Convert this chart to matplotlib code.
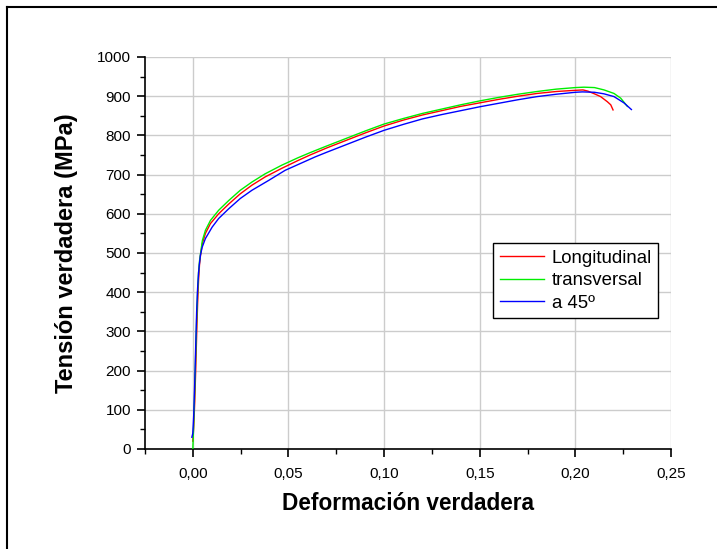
import matplotlib
matplotlib.use("Agg")
import matplotlib.pyplot as plt
from matplotlib.ticker import MultipleLocator, FuncFormatter
from matplotlib.lines import Line2D

plt.rcParams['font.family'] = ['Liberation Sans', 'DejaVu Sans']

# Longitudinal (red)
long_strain = [0.0, 0.0005, 0.001, 0.0015, 0.002, 0.0025, 0.003, 0.0035, 0.004, 0.005, 0.0066, 0.0092,
               0.0135, 0.0188, 0.0248, 0.0309, 0.0378, 0.0465, 0.055, 0.0613, 0.070, 0.080, 0.090,
               0.100, 0.110, 0.120, 0.130, 0.140, 0.150, 0.160, 0.170, 0.180, 0.190, 0.200, 0.204,
               0.2065, 0.2100, 0.2132, 0.2167, 0.2185, 0.2197]
long_stress = [20, 60, 120, 200, 290, 370, 430, 470, 493, 525, 550, 575,
               600, 625, 651, 673, 694, 716, 736, 750, 768, 787, 806,
               824, 839, 852, 863, 874, 883, 892, 900, 907, 912, 915, 916,
               913, 906, 899, 886, 878, 865]

# Transversal (green)
trans_strain = [0.0, 0.0005, 0.001, 0.0015, 0.002, 0.0025, 0.003, 0.0035, 0.004, 0.005, 0.0066, 0.0092,
                0.0135, 0.0188, 0.0248, 0.0309, 0.0378, 0.0465, 0.055, 0.0613, 0.070, 0.080, 0.090,
                0.100, 0.110, 0.120, 0.130, 0.140, 0.150, 0.160, 0.170, 0.180, 0.190, 0.200, 0.2045,
                0.2100, 0.2150, 0.2202, 0.2237, 0.2272]
trans_stress = [0, 70, 150, 240, 330, 400, 450, 480, 497, 532, 558, 583,
                609, 634, 660, 681, 702, 724, 743, 756, 773, 792, 811,
                829, 843, 856, 867, 878, 888, 897, 905, 912, 918, 922, 923,
                922, 916, 907, 895, 874]

# a 45º (blue)
d45_strain = [-0.0005, 0.0, 0.0005, 0.001, 0.0015, 0.002, 0.0025, 0.003, 0.0035, 0.004, 0.0049, 0.0066,
              0.0101, 0.0135, 0.0188, 0.0248, 0.0309, 0.0396, 0.0483, 0.0639, 0.070, 0.080, 0.090,
              0.100, 0.110, 0.120, 0.130, 0.140, 0.150, 0.160, 0.170, 0.180, 0.190, 0.200, 0.2037,
              0.2100, 0.2150, 0.2202, 0.2254, 0.2293]
d45_stress = [30, 40, 90, 170, 260, 350, 410, 450, 475, 495, 515, 537,
              566, 588, 613, 639, 660, 685, 711, 745, 757, 776, 795,
              813, 828, 842, 853, 863, 873, 882, 891, 899, 905, 910, 911,
              910, 906, 899, 883, 866]

x_ticks = [0.00, 0.05, 0.10, 0.15, 0.20, 0.25]
y_ticks = [0, 100, 200, 300, 400, 500, 600, 700, 800, 900, 1000]

fig = plt.figure(figsize=(7.17, 5.49), dpi=100)
ax = fig.add_axes([145/717, 1 - 449/549, (671 - 145)/717, (449 - 57)/549])

ax.plot(long_strain, long_stress, color='#ff0000', lw=1.0, label='Longitudinal', zorder=3)
ax.plot(trans_strain, trans_stress, color='#00ee00', lw=1.0, label='transversal', zorder=3)
ax.plot(d45_strain, d45_stress, color='#0000ff', lw=1.0, label='a 45º', zorder=4)

ax.set_xlim(-0.025, 0.25)
ax.set_ylim(0, 1000)
ax.set_xticks(x_ticks)
ax.set_yticks(y_ticks)
ax.xaxis.set_minor_locator(MultipleLocator(0.025))
ax.yaxis.set_minor_locator(MultipleLocator(50))
ax.xaxis.set_major_formatter(FuncFormatter(lambda v, p: f"{v:.2f}".replace('.', ',')))
ax.yaxis.set_major_formatter(FuncFormatter(lambda v, p: f"{int(round(v))}"))

for s in ['top', 'right']:
    ax.spines[s].set_visible(False)
for s in ['left', 'bottom']:
    ax.spines[s].set_linewidth(1.2)

ax.tick_params(axis='both', which='major', direction='out', length=6, width=1.2, labelsize=11, pad=4)
ax.tick_params(axis='both', which='minor', direction='out', length=3.5, width=1.0)
ax.tick_params(axis='x', pad=7)

ax.grid(True, which='major', color='#cccccc', lw=1.0, zorder=0)
ax.set_axisbelow(True)

ax.set_xlabel('Deformación verdadera', fontsize=16.3, fontweight='bold', labelpad=8)
ax.set_ylabel('Tensión verdadera (MPa)', fontsize=17, fontweight='bold', labelpad=14)

leg = ax.legend(loc='upper left', bbox_to_anchor=((493-145)/526, 1 - (243-57)/392),
                fontsize=13.4, frameon=True, fancybox=False, framealpha=1,
                edgecolor='black', borderpad=0.35, handlelength=2.4, handletextpad=0.4,
                labelspacing=0.3, borderaxespad=0)
leg.get_frame().set_linewidth(1.0)

fig.add_artist(Line2D([7/717, 7/717], [0, 1 - 7/549], transform=fig.transFigure,
                      color='black', lw=1.5))
fig.add_artist(Line2D([7/717, 1], [1 - 7/549, 1 - 7/549], transform=fig.transFigure,
                      color='black', lw=1.5))

fig.savefig('out.png', dpi=100)
